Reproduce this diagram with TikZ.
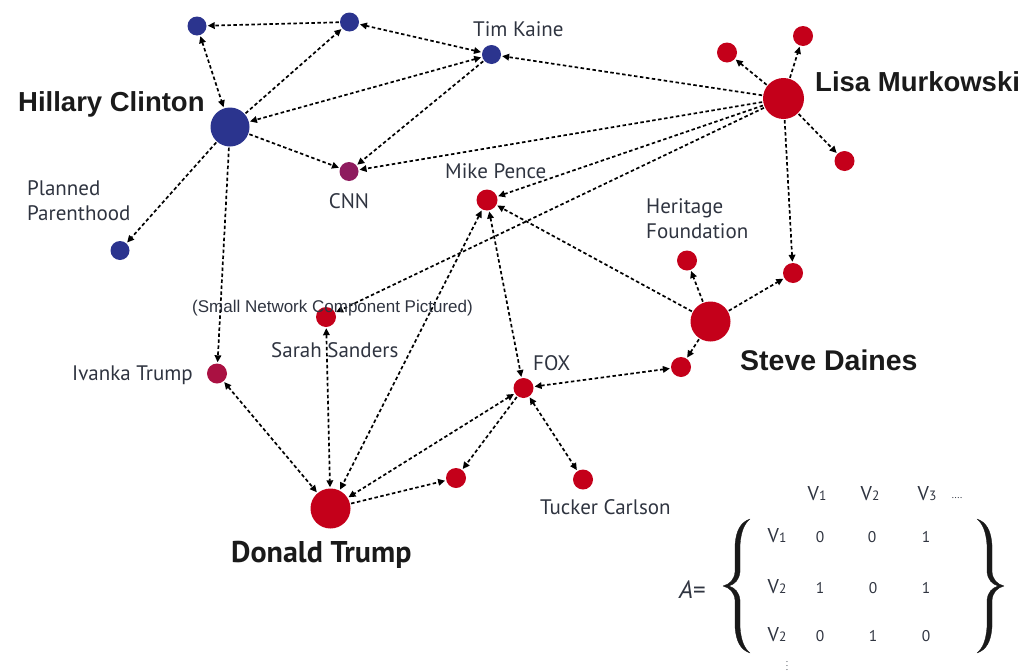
\documentclass[tikz,border=0pt]{standalone}
\usepackage{fontspec}
\setmainfont{PT Sans}
\newfontfamily\hel{Liberation Sans}
\usetikzlibrary{arrows.meta}
\definecolor{nblue}{HTML}{2B348E}
\definecolor{nred}{HTML}{C4001A}
\definecolor{cnnc}{HTML}{8E1B5E}
\definecolor{ivc}{HTML}{AA1142}
\definecolor{labc}{HTML}{2F3440}
\definecolor{bigc}{HTML}{1A1A1A}
\tikzset{
  dot/.style={circle, inner sep=0pt, minimum size=#1},
  bdot/.style={dot=#1, fill=nblue},
  rdot/.style={dot=#1, fill=nred},
  tip/.tip={Triangle[length=7pt,width=6.5pt]},
  edge/.style={draw=black, line width=1.7pt, dash pattern=on 3.5pt off 2.5pt, -tip, shorten >=1pt, shorten <=1pt},
  bi/.style={edge, tip-tip},
  big/.style={anchor=base west, inner sep=0pt, text=bigc, font=\hel\bfseries\fontsize{27.5}{27.5}\selectfont},
  lab/.style={anchor=base west, inner sep=0pt, text=labc, font=\fontsize{21}{21}\selectfont},
  mat/.style={anchor=base, inner sep=0pt, text=labc, font=\fontsize{20}{20}\selectfont},
  num/.style={anchor=base, inner sep=0pt, text=labc, font=\fontsize{15.5}{15.5}\selectfont},
  bracefill/.style={fill=black!90, draw=black!90, line width=0.3pt, line join=round}
}
\newcommand{\vsub}[1]{V{\fontsize{13.5}{13.5}\selectfont #1}}
\newcommand{\bracepath}{(750,519) .. controls (741,522) and (736,530) .. (735,545) -- (735,572) .. controls (734,580) and (730,584) .. (723,586) .. controls (730,588) and (734,592) .. (735,600) -- (735,627) .. controls (736,642) and (741,650) .. (750,653) .. controls (744,648) and (741,640) .. (740,627) -- (740,600) .. controls (739,592) and (735,588) .. (729,586) .. controls (735,584) and (739,580) .. (740,572) -- (740,545) .. controls (741,532) and (744,524) .. (750,519) -- cycle}
\begin{document}
\begin{tikzpicture}[x=1pt,y=-1pt]
\useasboundingbox (0,0) rectangle (1023,672);
% nodes
\node[bdot=19pt] (b1) at (197,26) {};
\node[bdot=19pt] (b2) at (349.5,22) {};
\node[bdot=19pt] (tk) at (491.5,54.5) {};
\node[bdot=39pt] (hc) at (230,127) {};
\node[bdot=19pt] (pp) at (120,250.5) {};
\node[dot=19pt, fill=cnnc] (cnn) at (349,171.5) {};
\node[rdot=21pt] (mp) at (487,200) {};
\node[rdot=41pt] (lm) at (783.5,98.5) {};
\node[rdot=20pt] (l1) at (727,52.5) {};
\node[rdot=20pt] (l2) at (803,36) {};
\node[rdot=20pt] (l3) at (844.5,161) {};
\node[rdot=20pt] (l4) at (793,273) {};
\node[rdot=20pt] (her) at (687,260.5) {};
\node[rdot=40pt] (sd) at (710.5,321.5) {};
\node[rdot=20pt] (sds) at (681,367) {};
\node[rdot=20pt] (fox) at (523.5,388) {};
\node[rdot=20pt] (tc) at (583,479.5) {};
\node[rdot=20pt] (ss) at (326,317) {};
\node[dot=20pt, fill=ivc] (iv) at (217,373.5) {};
\node[rdot=40pt] (dt) at (330.5,508.5) {};
\node[rdot=20pt] (dts) at (456,478) {};
% edges
\draw[edge] (b2) -- (b1);
\draw[bi] (b1) -- (hc);
\draw[edge] (hc) -- (b2);
\draw[bi] (tk) -- (b2);
\draw[bi] (tk) -- (hc);
\draw[edge] (tk) -- (cnn);
\draw[edge] (lm) -- (tk);
\draw[edge] (hc) -- (cnn);
\draw[edge] (lm) -- (cnn);
\draw[edge] (lm) -- (mp);
\draw[edge] (lm) -- (ss);
\draw[edge] (sd) -- (mp);
\draw[edge] (lm) -- (l1);
\draw[edge] (lm) -- (l2);
\draw[edge] (lm) -- (l3);
\draw[edge] (lm) -- (l4);
\draw[edge] (hc) -- (pp);
\draw[edge] (hc) -- (iv);
\draw[bi] (iv) -- (dt);
\draw[bi] (ss) -- (dt);
\draw[bi] (mp) -- (dt);
\draw[bi] (mp) -- (fox);
\draw[bi] (fox) -- (dt);
\draw[edge] (fox) -- (dts);
\draw[edge] (dt) -- (dts);
\draw[bi] (fox) -- (tc);
\draw[bi] (fox) -- (sds);
\draw[edge] (sd) -- (sds);
\draw[edge] (sd) -- (her);
\draw[edge] (sd) -- (l4);
% labels
\node[big] (thc) at (18,111) {Hillary Clinton};
\node[big] (tlm) at (815,91) {Lisa Murkowski};
\node[big, font=\hel\bfseries\fontsize{28.5}{28.5}\selectfont] (tsd) at (740,370) {Steve Daines};
\node[anchor=base west, inner sep=0pt, text=bigc, font=\bfseries\fontsize{30}{30}\selectfont] (tdt) at (231,562) {Donald Trump};
\node[lab] (ttk) at (473,36) {Tim Kaine};
\node[lab] (tpp1) at (27,195) {Planned};
\node[lab] (tpp2) at (27,220) {Parenthood};
\node[lab, anchor=base] (tcnn) at (349,208) {CNN};
\node[lab] (tmp) at (445,178) {Mike Pence};
\node[lab] (the1) at (646,213) {Heritage};
\node[lab] (the2) at (646,238) {Foundation};
\node[lab] (tfox) at (533,370) {FOX};
\node[lab] (ttc) at (540,514) {Tucker Carlson};
\node[lab] (tss) at (271,357) {Sarah Sanders};
\node[lab] (tiv) at (72,380) {Ivanka Trump};
\node[anchor=base west, inner sep=0pt, text=labc, font=\hel\fontsize{17}{17}\selectfont] (tsn) at (192,312) {(Small Network Component Pictured)};
% matrix
\node[anchor=base west, inner sep=0pt, text=labc, font=\fontsize{25}{25}\selectfont] (ta) at (679,598) {\textit{A}=};
\fill[bracefill] \bracepath;
\begin{scope}[xshift=1727pt, xscale=-1]
\fill[bracefill] \bracepath;
\end{scope}
\node[mat] (h1) at (817,500) {\vsub{1}};
\node[mat] (h2) at (870,500) {\vsub{2}};
\node[mat] (h3) at (927,500) {\vsub{3}};
\node[num, font=\fontsize{10}{10}\selectfont] (h4) at (957,498) {....};
\node[mat] (r1) at (777,542) {\vsub{1}};
\node[mat] (r2) at (777,593) {\vsub{2}};
\node[mat] (r3) at (777,641) {\vsub{2}};
\node[num] (a11) at (820,542) {0};
\node[num] (a12) at (872,542) {0};
\node[num] (a13) at (926,542) {1};
\node[num] (a21) at (820,593) {1};
\node[num] (a22) at (873,593) {0};
\node[num] (a23) at (926,593) {1};
\node[num] (a31) at (820,641) {0};
\node[num] (a32) at (873,641) {1};
\node[num] (a33) at (926,641) {0};
\node[inner sep=0pt, text=labc, font=\fontsize{9}{9}\selectfont] (vd) at (787,663) {$\vdots$};
\end{tikzpicture}
\end{document}
